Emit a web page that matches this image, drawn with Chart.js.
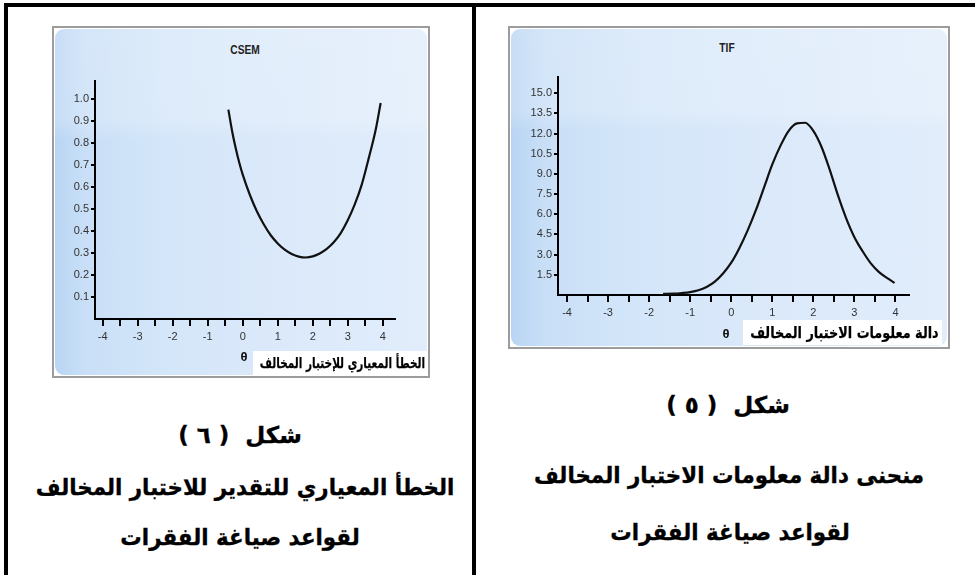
<!DOCTYPE html>
<html lang="ar">
<head>
<meta charset="utf-8">
<script src="https://cdn.jsdelivr.net/npm/chart.js@4.4.1/dist/chart.umd.min.js"></script>
<style>
  html, body { margin: 0; padding: 0; background: #fff; }
  #page { position: relative; width: 975px; height: 575px; overflow: hidden; background: #fff; }
  .rule { position: absolute; background: #000; }
  .box { position: absolute; box-sizing: border-box; border: 2px solid #9c9c9c; background: #fff; }
  .box .fill {
    position: absolute; inset: 1px; border-radius: 9px;
    background:
      linear-gradient(180deg, rgba(255,255,255,0.22) 0%, rgba(255,255,255,0.2) 26%, rgba(255,255,255,0) 32%),
      linear-gradient(90deg, #b9d5f3 0%, #c9dff7 8%, #d4e6f9 30%, #dbe9fa 60%, #e1edfb 100%);
  }
  canvas { position: absolute; }
  .title { position: absolute; transform: translate(-50%, -50%) scaleX(0.85); font: bold 12px 'Liberation Sans Narrow', 'Liberation Sans', Arial, sans-serif; color: #222; }
  .lab { position: absolute; box-sizing: border-box; background: #fff; text-align: right; white-space: nowrap; overflow: visible;
         font-family: 'DejaVu Sans', sans-serif; font-weight: bold; color: #000; direction: rtl; }
  .lab span { display: inline-block; transform-origin: right center; -webkit-text-stroke: 0.25px #000; }
  .theta { position: absolute; transform: translate(-50%, -50%); font: bold 13px 'Liberation Sans', Arial, sans-serif; color: #111; }
  .cap { position: absolute; white-space: nowrap; direction: rtl;
         font-family: 'DejaVu Sans', sans-serif; font-weight: bold; color: #000; -webkit-text-stroke: 0.35px #000; }
</style>
</head>
<body>
<div id="page">
  <!-- table rules -->
  <div class="rule" style="left:4px; top:3px; width:971px; height:4px;"></div>
  <div class="rule" style="left:4px; top:3px; width:4px; height:572px;"></div>
  <div class="rule" style="left:472px; top:3px; width:4px; height:572px;"></div>

  <!-- left panel: CSEM -->
  <div class="box" style="left:52px; top:26px; width:378px; height:352px;"><div class="fill"></div></div>
  <div class="title" style="left:245px; top:50px;">CSEM</div>
  <canvas id="csem" width="350" height="290" style="left:55px; top:60px;"></canvas>
  <div class="theta" style="left:244px; top:356px;">θ</div>
  <div class="lab" style="left:253px; top:351px; width:175px; height:24px; font-size:15px; line-height:24px; padding-right:3px;"><span style="transform: scaleX(0.7);">الخطأ المعياري للإختبار المخالف</span></div>

  <!-- right panel: TIF -->
  <div class="box" style="left:508px; top:26px; width:442px; height:323px;"><div class="fill"></div></div>
  <div class="title" style="left:727px; top:48px;">TIF</div>
  <canvas id="tif" width="400" height="270" style="left:518px; top:56px;"></canvas>
  <div class="theta" style="left:726px; top:333px;">θ</div>
  <div class="lab" style="left:743px; top:320px; width:199px; height:25px; font-size:16px; line-height:25px; padding-right:3px;"><span style="transform: scaleX(0.8);">دالة معلومات الاختبار المخالف</span></div>

  <!-- captions -->
  <div class="cap" style="left:240px; top:435px; font-size:23px; transform: translate(-50%, -50%);">شكل&nbsp; ( ٦ )</div>
  <div class="cap" style="left:245px; top:487px; font-size:23px; transform: translate(-50%, -50%) scaleX(0.93);">الخطأ المعياري للتقدير للاختبار المخالف</div>
  <div class="cap" style="left:240px; top:537px; font-size:23px; transform: translate(-50%, -50%) scaleX(0.93);">لقواعد صياغة الفقرات</div>

  <div class="cap" style="left:728px; top:405px; font-size:23px; transform: translate(-50%, -50%);">شكل&nbsp; ( ٥ )</div>
  <div class="cap" style="left:729px; top:475px; font-size:23px; transform: translate(-50%, -50%) scaleX(0.93);">منحنى دالة معلومات الاختبار المخالف</div>
  <div class="cap" style="left:730px; top:532px; font-size:23px; transform: translate(-50%, -50%) scaleX(0.93);">لقواعد صياغة الفقرات</div>
</div>

<script>
// CSEM curve
const csemTheta = [-0.41, -0.3, -0.2, -0.1, 0.0, 0.2, 0.4, 0.6, 0.8, 1.0, 1.2, 1.4, 1.6, 1.8, 2.0, 2.2, 2.4, 2.6, 2.8, 3.0, 3.2, 3.4, 3.6, 3.8, 3.94];
const csemValues = [0.95, 0.85, 0.775, 0.71, 0.655, 0.565, 0.49, 0.43, 0.38, 0.343, 0.315, 0.295, 0.283, 0.279, 0.284, 0.297, 0.318, 0.348, 0.39, 0.448, 0.52, 0.61, 0.73, 0.86, 0.98];

// TIF curve
const tifTheta = [-1.66, -1.4, -1.2, -1.0, -0.8, -0.6, -0.4, -0.2, 0.0, 0.2, 0.4, 0.6, 0.8, 1.0, 1.2, 1.4, 1.6, 1.8, 2.0, 2.2, 2.4, 2.6, 2.8, 3.0, 3.2, 3.4, 3.6, 3.8, 3.98];
const tifValues = [0.08, 0.1, 0.15, 0.22, 0.35, 0.6, 1.0, 1.6, 2.4, 3.5, 4.8, 6.3, 8.0, 9.7, 11.1, 12.2, 12.75, 12.8, 12.2, 11.0, 9.3, 7.4, 5.7, 4.3, 3.25, 2.35, 1.7, 1.25, 0.9];

const thetaStep = 0.5;
const csemStep = 0.1;
const tifStep = 1.5;

const tickFont = { family: "'Liberation Sans Narrow', 'Liberation Sans', Arial, sans-serif", size: 11 };

function makeCurve(id, xs, ys, xMin, xMax, yMax, yStep) {
  const pts = xs.map((x, i) => ({ x, y: ys[i] }));
  return new Chart(document.getElementById(id), {
    type: 'line',
    data: {
      datasets: [{
        data: pts,
        borderColor: '#111',
        borderWidth: 2.2,
        pointRadius: 0,
        cubicInterpolationMode: 'monotone',
        fill: false
      }]
    },
    options: {
      responsive: false,
      animation: false,
      layout: { padding: { left: 0, right: id === 'csem' ? 10 : 9, top: 21, bottom: 6 } },
      plugins: { legend: { display: false }, tooltip: { enabled: false }, title: { display: false } },
      scales: {
        x: {
          type: 'linear',
          min: xMin,
          max: xMax,
          afterFit: s => { s.height = 25; },
          border: { display: true, color: '#000', width: 2 },
          grid: { display: true, drawOnChartArea: false, drawTicks: true, tickLength: 7, color: '#000', lineWidth: 2 },
          ticks: {
            stepSize: thetaStep,
            includeBounds: false,
            autoSkip: false,
            maxRotation: 0,
            padding: 4,
            color: '#333',
            font: tickFont,
            callback: v => Number.isInteger(v) ? String(v) : ''
          }
        },
        y: {
          type: 'linear',
          min: 0,
          max: yMax,
          afterFit: s => { s.width = 40; },
          border: { display: true, color: '#000', width: 2 },
          grid: {
            display: true, drawOnChartArea: false, drawTicks: true, tickLength: 4, lineWidth: 2,
            color: c => (c.tick && c.tick.value === 0) ? 'rgba(0,0,0,0)' : '#000'
          },
          ticks: {
            stepSize: yStep,
            includeBounds: false,
            autoSkip: false,
            padding: 2,
            color: '#333',
            font: tickFont,
            callback: v => v === 0 ? '' : v.toFixed(1)
          }
        }
      }
    }
  });
}

makeCurve('csem', csemTheta, csemValues, -4.22, 4.35, 1.08, csemStep);
makeCurve('tif', tifTheta, tifValues, -4.22, 4.33, 16.2, tifStep);
</script>
</body>
</html>
